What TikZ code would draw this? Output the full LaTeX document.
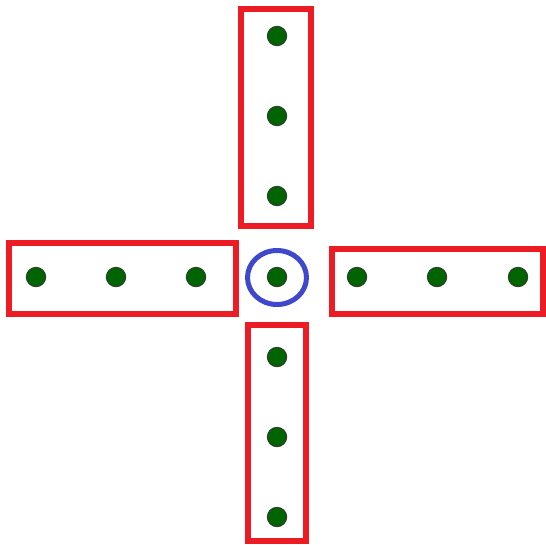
\documentclass[tikz,border=0pt]{standalone}
\definecolor{boxred}{RGB}{237,28,36}
\definecolor{ringblue}{RGB}{63,72,204}
\definecolor{dotgreen}{RGB}{0,100,0}
\begin{document}
\begin{tikzpicture}[x=1pt,y=-1pt,
  dotnode/.style={circle,fill=dotgreen,draw=black!80,line width=0.8pt,minimum size=19.5pt,inner sep=0pt},
  redbox/.style={draw=boxred,line width=6pt},
  ring/.style={draw=ringblue,line width=5pt}]
\useasboundingbox (0,0) rectangle (546,544);
% boxes
\draw[redbox] (240.5,9) rectangle (311,226);
\draw[redbox] (8.5,243) rectangle (236,314);
\draw[redbox] (332,249) rectangle (543,314);
\draw[redbox] (247.5,325) rectangle (305.5,540.5);
% ring
\draw[ring] (277,277.5) ellipse [x radius=29.5, y radius=27];
% dots
\node[dotnode] (c) at (277,277) {};
\node[dotnode] (t1) at (277,36) {};
\node[dotnode] (t2) at (277,116) {};
\node[dotnode] (t3) at (277,196) {};
\node[dotnode] (b1) at (277,357) {};
\node[dotnode] (b2) at (277,437) {};
\node[dotnode] (b3) at (277,517) {};
\node[dotnode] (l1) at (36,277) {};
\node[dotnode] (l2) at (116,277) {};
\node[dotnode] (l3) at (196,277) {};
\node[dotnode] (r1) at (357,277) {};
\node[dotnode] (r2) at (437,277) {};
\node[dotnode] (r3) at (518,277) {};
\end{tikzpicture}
\end{document}
